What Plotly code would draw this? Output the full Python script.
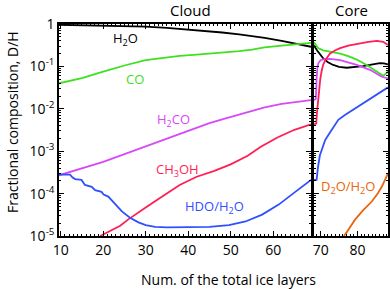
import plotly.graph_objects as go

# ---------------- data ----------------
# Cloud phase
cloud_x = [9.6, 15, 20, 25, 30, 35, 38, 42, 45, 48, 52, 55, 58, 62, 66, 68.9]
h2o_cloud = [0.96, 0.945, 0.93, 0.9, 0.87, 0.81, 0.77, 0.72, 0.68, 0.63, 0.57, 0.52, 0.47, 0.40, 0.33, 0.29]
co_cloud = [0.04, 0.053, 0.075, 0.105, 0.14, 0.165, 0.178, 0.19, 0.2, 0.21, 0.23, 0.25, 0.28, 0.31, 0.34, 0.36]
h2co_cloud = [2.7e-4, 3.9e-4, 5.6e-4, 8.5e-4, 1.3e-3, 2.0e-3, 2.6e-3, 3.6e-3, 4.6e-3, 5.6e-3, 7.2e-3, 9.0e-3, 1.08e-2, 1.3e-2, 1.5e-2, 1.6e-2]

ch3oh_cloud_x = [19.3, 20, 22, 24, 26, 28, 30, 33, 36, 38, 42, 46, 50, 54, 57, 61, 65, 68.9]
ch3oh_cloud = [1.0e-5, 1.08e-5, 1.35e-5, 1.75e-5, 2.5e-5, 3.5e-5, 4.7e-5, 7.5e-5, 1.15e-4, 1.6e-4,
               2.5e-4, 3.4e-4, 4.9e-4, 7.8e-4, 1.25e-3, 2.1e-3, 3.2e-3, 4.3e-3]

hdo_cloud_x = [9.6, 12.2, 12.8, 13.4, 14.9, 15.4, 15.7, 17.3, 17.8, 18.1, 19.6, 20.1, 21.2, 22.5,
               24.4, 26.3, 28.3, 30, 32.2, 35, 40, 45, 49.6, 53.5, 57.4, 61.3, 65.2, 68.9]
hdo_cloud = [2.8e-4, 2.8e-4, 2.4e-4, 2.2e-4, 2.1e-4, 1.7e-4, 1.6e-4, 1.45e-4, 1.3e-4, 1.2e-4, 1.1e-4,
             9.5e-5, 8.5e-5, 6.2e-5, 3.8e-5, 2.7e-5, 2.1e-5, 1.8e-5, 1.65e-5, 1.6e-5, 1.6e-5, 1.65e-5,
             1.8e-5, 2.2e-5, 3.2e-5, 5.5e-5, 1.1e-4, 2.1e-4]

# Core phase
h2o_core_x = [68.2, 69, 70.7, 72, 73.4, 75, 77.1, 79.8, 81.5, 83.4, 85, 86.1, 87.2, 88.3]
h2o_core = [0.31, 0.24, 0.155, 0.125, 0.108, 0.098, 0.093, 0.097, 0.102, 0.108, 0.115, 0.12, 0.118, 0.112]

co_core_x = [68.2, 69.3, 70.7, 73, 75.3, 77.5, 79.8, 82.5, 84, 85.3, 87, 87.9, 88.3]
co_core = [0.37, 0.27, 0.24, 0.22, 0.2, 0.175, 0.145, 0.108, 0.088, 0.075, 0.06, 0.069, 0.078]

h2co_core_x = [68.2, 68.7, 68.9, 69.1, 69.4, 70, 70.7, 72.5, 75.3, 77.5, 79.8, 83.4, 85, 86.6, 88.3]
h2co_core = [0.016, 0.017, 0.05, 0.09, 0.12, 0.14, 0.147, 0.15, 0.14, 0.125, 0.108, 0.083, 0.07, 0.057, 0.052]

ch3oh_core_x = [68.2, 68.8, 69.0, 69.3, 69.6, 69.9, 70.3, 70.7, 71.5, 72.5, 74, 75.3, 77.5, 79.8, 83, 85.3, 87, 88.3]
ch3oh_core = [4.3e-3, 4.5e-3, 8e-3, 0.016, 0.03, 0.05, 0.08, 0.11, 0.15, 0.2, 0.24, 0.27, 0.31, 0.34, 0.38, 0.4, 0.38, 0.32]

hdo_core_x = [68.2, 68.9, 69.3, 69.8, 70.3, 71.2, 72.1, 73.9, 74.8, 76.6, 80.2, 83.9, 86, 88.3]
hdo_core = [2.1e-4, 2.1e-4, 4.3e-4, 8e-4, 1.07e-3, 1.8e-3, 2.4e-3, 4.3e-3, 5.5e-3, 7.1e-3, 0.0112, 0.0178, 0.024, 0.032]

d2o_core_x = [76.3, 77, 79.3, 81.5, 83.9, 85.5, 86.6, 87.5, 88.3]
d2o_core = [1e-5, 1.2e-5, 2.4e-5, 4e-5, 6.5e-5, 1.0e-4, 1.45e-4, 2.1e-4, 3.0e-4]

# tick labels
y_tickvals = [1e-5, 1e-4, 1e-3, 1e-2, 1e-1, 1]
y_ticktext = ["10<sup>-5</sup>", "10<sup>-4</sup>", "10<sup>-3</sup>", "10<sup>-2</sup>", "10<sup>-1</sup>", "1"]

# colours
C_H2O = "#000000"
C_CO = "#3ee020"
C_H2CO = "#d848f8"
C_CH3OH = "#ff1f55"
C_HDO = "#3050ff"
C_D2O = "#e8650c"

FONT = "Open Sans"
W, H = 390, 289

fig = go.Figure()

def add(x, y, color, xa, ya):
    fig.add_trace(go.Scatter(x=x, y=y, mode="lines", line=dict(color=color, width=1.8),
                             xaxis=xa, yaxis=ya, showlegend=False, hoverinfo="skip"))

add(cloud_x, h2o_cloud, C_H2O, "x", "y")
add(cloud_x, co_cloud, C_CO, "x", "y")
add(cloud_x, h2co_cloud, C_H2CO, "x", "y")
add(ch3oh_cloud_x, ch3oh_cloud, C_CH3OH, "x", "y")
add(hdo_cloud_x, hdo_cloud, C_HDO, "x", "y")

add(h2o_core_x, h2o_core, C_H2O, "x2", "y2")
add(co_core_x, co_core, C_CO, "x2", "y2")
add(h2co_core_x, h2co_core, C_H2CO, "x2", "y2")
add(ch3oh_core_x, ch3oh_core, C_CH3OH, "x2", "y2")
add(hdo_core_x, hdo_core, C_HDO, "x2", "y2")
add(d2o_core_x, d2o_core, C_D2O, "x2", "y2")

minor_y = [k * 10.0 ** n for n in range(-5, 0) for k in range(2, 10)]

common_x = dict(showgrid=False, zeroline=False, showline=True, linecolor="black", linewidth=1.6,
                mirror="ticks", ticks="inside", ticklen=5, tickwidth=1, tickcolor="black", automargin=False,
                dtick=10, tickfont=dict(family=FONT, size=14, color="black"),
                minor=dict(ticks="inside", ticklen=2.5, tickwidth=1, tickcolor="black", dtick=1, showgrid=False))
common_y = dict(type="log", range=[-5, 0], showgrid=False, zeroline=False, showline=True, automargin=False,
                linecolor="black", linewidth=1.6, mirror="ticks", ticks="inside", ticklen=5,
                tickwidth=1, tickcolor="black", tickmode="array", tickvals=y_tickvals,
                ticktext=y_ticktext, tickfont=dict(family=FONT, size=14, color="black"),
                minor=dict(ticks="inside", ticklen=2.5, tickwidth=1, tickcolor="black",
                           tickmode="array", tickvals=minor_y, showgrid=False))

fig.update_layout(
    width=W, height=H, margin=dict(l=0, r=0, t=0, b=0, autoexpand=False), autosize=False,
    paper_bgcolor="white", plot_bgcolor="white",
    xaxis=dict(domain=[59 / W, 311 / W], range=[9.6, 68.9], anchor="y", tick0=10, **common_x),
    xaxis2=dict(domain=[314 / W, 388 / W], range=[68.2, 88.3], anchor="y2", tick0=70, **common_x),
    yaxis=dict(domain=[1 - 236 / H, 1 - 24 / H], anchor="x", **common_y),
    yaxis2=dict(domain=[1 - 236 / H, 1 - 24 / H], anchor="x2", showticklabels=False, **common_y),
)

def lab(text, x, y, color, xref="x", yref="y", size=13):
    fig.add_annotation(text=text, x=x, y=y, xref=xref, yref=yref, showarrow=False,
                       font=dict(family=FONT, size=size, color=color), xanchor="center", yanchor="middle")

lab("H<sub>2</sub>O", 25.2, -0.36, C_H2O)
lab("CO", 27.6, -1.30, C_CO)
lab("H<sub>2</sub>CO", 36.5, -2.26, C_H2CO)
lab("CH<sub>3</sub>OH", 37.6, -3.44, C_CH3OH)
lab("HDO/H<sub>2</sub>O", 46.2, -4.31, C_HDO)
lab("D<sub>2</sub>O/H<sub>2</sub>O", 77.3, -3.84, C_D2O, xref="x2", yref="y2")

def ptxt(text, px, py, size, angle=0):
    fig.add_annotation(text=text, x=px / W, y=1 - py / H, xref="paper", yref="paper", showarrow=False,
                       font=dict(family=FONT, size=size, color="black"), xanchor="center",
                       yanchor="middle", textangle=angle)

ptxt("Cloud", 190, 10, 15)
ptxt("Core", 351, 10, 15)
ptxt("Fractional composition, D/H", 12, 122, 14, angle=-90)
ptxt("Num. of the total ice layers", 228, 279, 14)

fig.write_html(
    "out.html",
    config={"responsive": False, "displayModeBar": False},
    post_script="document.body.style.margin='0px';document.body.style.overflow='hidden';",
)
